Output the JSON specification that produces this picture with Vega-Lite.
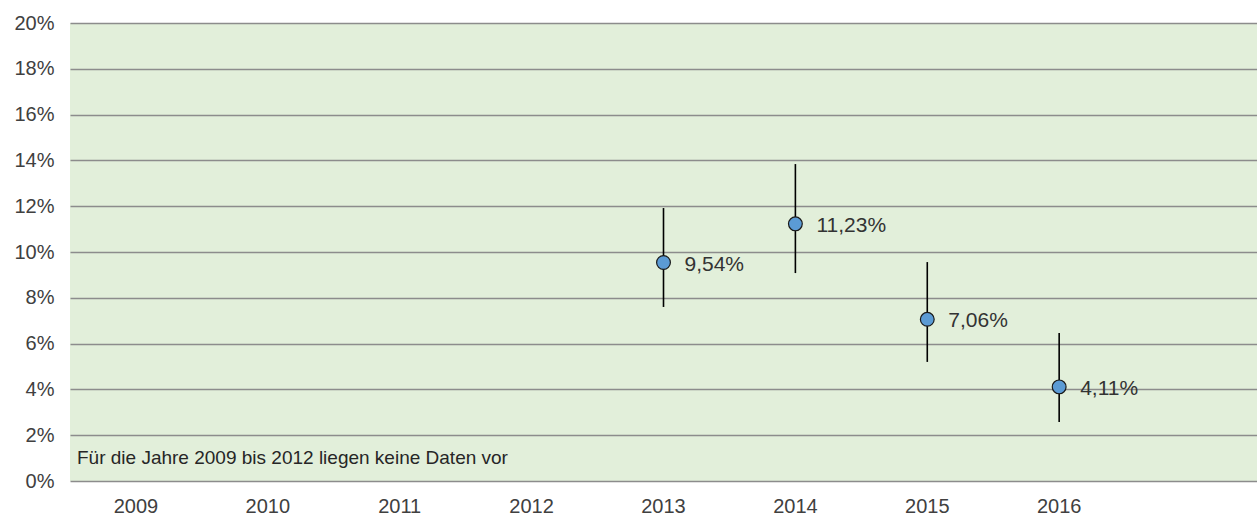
{
  "$schema": "https://vega.github.io/schema/vega-lite/v6.json",
  "width": 1187,
  "height": 458,
  "autosize": {"type": "none"},
  "padding": {"left": 70, "top": 23, "right": 0, "bottom": 34},
  "background": "white",
  "config": {
    "font": "Liberation Sans",
    "view": {"fill": "#E2EFDA", "stroke": null}
  },
  "data": {
    "values": [
      {"year": "2013", "value": 0.0954, "lo": 0.076, "hi": 0.1192, "label": "9,54%"},
      {"year": "2014", "value": 0.1123, "lo": 0.0908, "hi": 0.1384, "label": "11,23%"},
      {"year": "2015", "value": 0.0706, "lo": 0.052, "hi": 0.0956, "label": "7,06%"},
      {"year": "2016", "value": 0.0411, "lo": 0.0258, "hi": 0.0646, "label": "4,11%"}
    ]
  },
  "encoding": {
    "x": {
      "field": "year",
      "type": "nominal",
      "bandPosition": 0.5,
      "scale": {
        "type": "band",
        "domain": ["2009", "2010", "2011", "2012", "2013", "2014", "2015", "2016", "2017"],
        "paddingInner": 0,
        "paddingOuter": 0
      },
      "axis": {
        "title": null,
        "domain": false,
        "ticks": false,
        "grid": false,
        "labelAngle": 0,
        "labelFontSize": 20,
        "labelColor": "#404040",
        "labelPadding": 15,
        "labelBaseline": "top",
        "labelExpr": "datum.value == '2017' ? '' : datum.value"
      }
    }
  },
  "layer": [
    {
      "mark": {"type": "rule", "color": "#000000", "strokeWidth": 1.6},
      "encoding": {
        "y": {
          "field": "lo",
          "type": "quantitative",
          "scale": {"domain": [0, 0.2], "nice": false},
          "axis": {
            "title": null,
            "values": [0, 0.02, 0.04, 0.06, 0.08, 0.1, 0.12, 0.14, 0.16, 0.18, 0.2],
            "format": ".0%",
            "domain": false,
            "ticks": false,
            "grid": true,
            "gridColor": "#8C8C8C",
            "gridWidth": 1.5,
            "gridOpacity": 1,
            "labelFontSize": 20,
            "labelColor": "#404040",
            "labelPadding": 16
          }
        },
        "y2": {"field": "hi"}
      }
    },
    {
      "mark": {"type": "point", "filled": true, "fill": "#5B9BD5", "stroke": "#1a1a1a", "strokeWidth": 1.2, "size": 190, "shape": "circle", "opacity": 1},
      "encoding": {
        "y": {"field": "value", "type": "quantitative"}
      }
    },
    {
      "mark": {"type": "text", "align": "left", "baseline": "middle", "dx": 21, "dy": 2, "fontSize": 21, "color": "#333333"},
      "encoding": {
        "y": {"field": "value", "type": "quantitative"},
        "text": {"field": "label"}
      }
    },
    {
      "data": {"values": [{"year": "2009", "v": 0.01, "note": "Für die Jahre 2009 bis 2012 liegen keine Daten vor"}]},
      "mark": {"type": "text", "align": "left", "baseline": "middle", "dx": 7, "fontSize": 19, "color": "#262626"},
      "encoding": {
        "x": {"field": "year", "type": "nominal", "bandPosition": 0},
        "y": {"field": "v", "type": "quantitative"},
        "text": {"field": "note"}
      }
    }
  ]
}
